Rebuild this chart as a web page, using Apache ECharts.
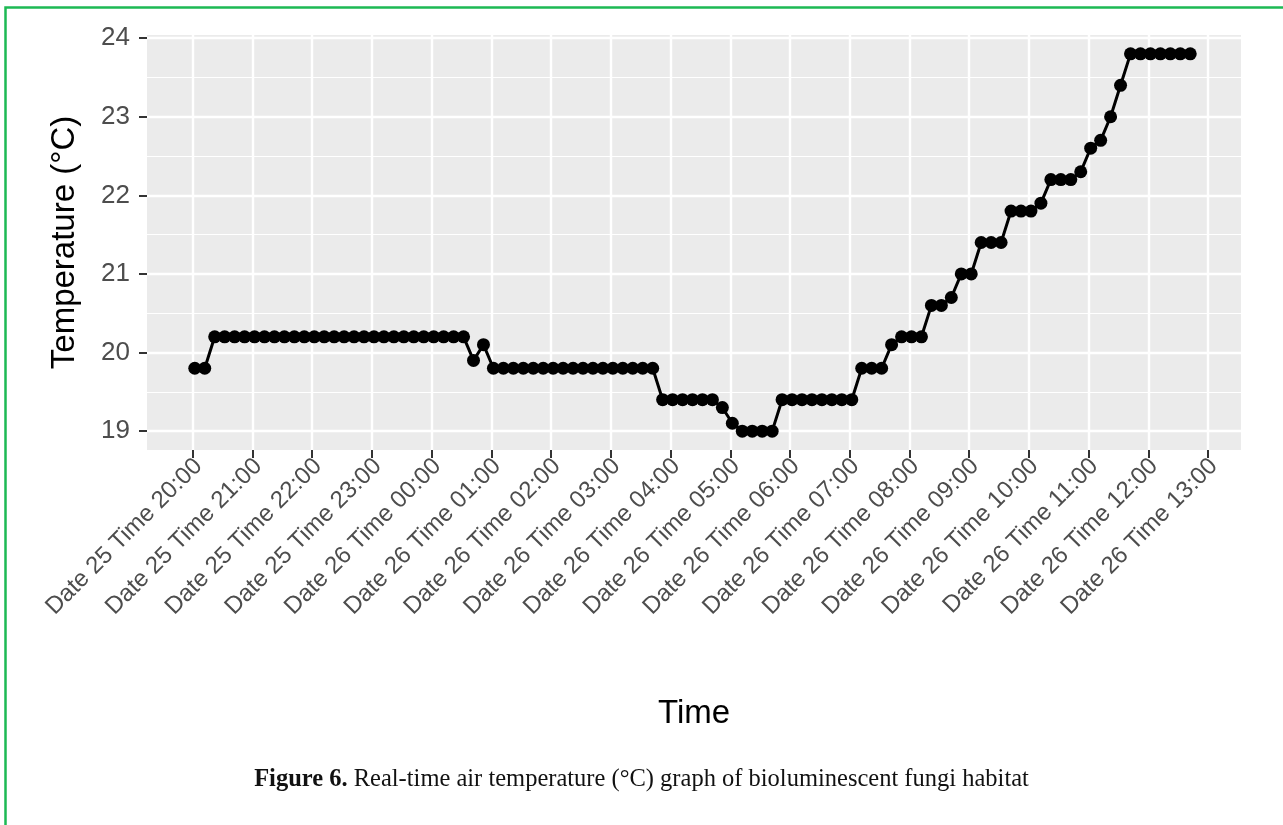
<!DOCTYPE html>
<html>
<head>
<meta charset="utf-8">
<title>Real-time air temperature</title>
<script src="https://cdn.jsdelivr.net/npm/echarts@6/dist/echarts.min.js"></script>
<style>
  html, body { margin: 0; padding: 0; background: #ffffff; }
  #chart { width: 1283px; height: 825px; }
</style>
</head>
<body>
<div id="chart"></div>
<script>
// Logger readings, one every ten minutes (clock time of each reading)
const times = [
  "20:02","20:12","20:22","20:32","20:42","20:52",
  "21:02","21:12","21:22","21:32","21:42","21:52",
  "22:02","22:12","22:22","22:32","22:42","22:52",
  "23:02","23:12","23:22","23:32","23:42","23:52",
  "00:02","00:12","00:22","00:32","00:42","00:52",
  "01:02","01:12","01:22","01:32","01:42","01:52",
  "02:02","02:12","02:22","02:32","02:42","02:52",
  "03:02","03:12","03:22","03:32","03:42","03:52",
  "04:02","04:12","04:22","04:32","04:42","04:52",
  "05:02","05:12","05:22","05:32","05:42","05:52",
  "06:02","06:12","06:22","06:32","06:42","06:52",
  "07:02","07:12","07:22","07:32","07:42","07:52",
  "08:02","08:12","08:22","08:32","08:42","08:52",
  "09:02","09:12","09:22","09:32","09:42","09:52",
  "10:02","10:12","10:22","10:32","10:42","10:52",
  "11:02","11:12","11:22","11:32","11:42","11:52",
  "12:02","12:12","12:22","12:32","12:42"
];

// Air temperature (°C) at each reading
const temps = [
  19.8, 19.8, 20.2, 20.2, 20.2, 20.2,
  20.2, 20.2, 20.2, 20.2, 20.2, 20.2,
  20.2, 20.2, 20.2, 20.2, 20.2, 20.2,
  20.2, 20.2, 20.2, 20.2, 20.2, 20.2,
  20.2, 20.2, 20.2, 20.2, 19.9, 20.1,
  19.8, 19.8, 19.8, 19.8, 19.8, 19.8,
  19.8, 19.8, 19.8, 19.8, 19.8, 19.8,
  19.8, 19.8, 19.8, 19.8, 19.8, 19.4,
  19.4, 19.4, 19.4, 19.4, 19.4, 19.3,
  19.1, 19.0, 19.0, 19.0, 19.0, 19.4,
  19.4, 19.4, 19.4, 19.4, 19.4, 19.4,
  19.4, 19.8, 19.8, 19.8, 20.1, 20.2,
  20.2, 20.2, 20.6, 20.6, 20.7, 21.0,
  21.0, 21.4, 21.4, 21.4, 21.8, 21.8,
  21.8, 21.9, 22.2, 22.2, 22.2, 22.3,
  22.6, 22.7, 23.0, 23.4, 23.8, 23.8,
  23.8, 23.8, 23.8, 23.8, 23.8
];

// Hourly tick positions and their labels
const tickTimes = [
  "20:00","21:00","22:00","23:00","00:00","01:00","02:00","03:00","04:00",
  "05:00","06:00","07:00","08:00","09:00","10:00","11:00","12:00","13:00"
];
const tickLabels = [
  "Date 25 Time 20:00","Date 25 Time 21:00","Date 25 Time 22:00","Date 25 Time 23:00",
  "Date 26 Time 00:00","Date 26 Time 01:00","Date 26 Time 02:00","Date 26 Time 03:00",
  "Date 26 Time 04:00","Date 26 Time 05:00","Date 26 Time 06:00","Date 26 Time 07:00",
  "Date 26 Time 08:00","Date 26 Time 09:00","Date 26 Time 10:00","Date 26 Time 11:00",
  "Date 26 Time 12:00","Date 26 Time 13:00"
];

// Temperature gridlines: labelled majors and unlabelled half-degree minors
const yMajor = [19, 20, 21, 22, 23, 24];
const yMinor = [19.5, 20.5, 21.5, 22.5, 23.5];

// Minutes elapsed since 20:00 on the 25th
function minutesSinceStart(t) {
  const [h, m] = t.split(":").map(Number);
  let v = h * 60 + m - 20 * 60;
  if (v < 0) v += 24 * 60;
  return v;
}

const xTicks = tickTimes.map(minutesSinceStart);
const labelByValue = {};
xTicks.forEach((v, i) => { labelByValue[v] = tickLabels[i]; });
const points = times.map((t, i) => [minutesSinceStart(t), temps[i]]);

const FONT = "'Liberation Sans', Arial, Helvetica, sans-serif";
const SERIF = "'Liberation Serif', 'Times New Roman', serif";
const TICK_COLOR = "#4D4D4D";

const chart = echarts.init(document.getElementById("chart"), null, { renderer: "canvas" });

chart.setOption({
  animation: false,
  backgroundColor: "#ffffff",
  grid: {
    left: 147, right: 42, top: 35, bottom: 375,
    show: true, backgroundColor: "#EBEBEB", borderWidth: 0
  },
  title: {
    left: "center",
    top: 762,
    text: "{b|Figure 6.}{n| Real-time air temperature (°C) graph of bioluminescent fungi habitat}",
    textStyle: {
      fontWeight: "normal",
      rich: {
        b: { fontFamily: SERIF, fontSize: 24.5, fontWeight: "bold", color: "#111111" },
        n: { fontFamily: SERIF, fontSize: 24.5, fontWeight: "normal", color: "#111111" }
      }
    }
  },
  xAxis: {
    type: "value",
    min: -46, max: 1053,
    name: "Time",
    nameLocation: "middle",
    nameGap: 247,
    nameTextStyle: { fontFamily: FONT, fontSize: 33, color: "#000000" },
    axisLine: { show: false, onZero: false },
    axisTick: { show: true, customValues: xTicks, length: 8, lineStyle: { color: "#333333", width: 2 } },
    axisLabel: {
      customValues: xTicks,
      rotate: 45,
      margin: 18,
      padding: [0, -8, 0, 0],
      fontFamily: FONT, fontSize: 24, color: TICK_COLOR,
      formatter: v => labelByValue[v] || ""
    },
    splitLine: { show: true, lineStyle: { color: "#ffffff", width: 2.4 } }
  },
  yAxis: [
    {
      type: "value",
      min: 18.76, max: 24.04,
      name: "Temperature (°C)",
      nameLocation: "middle",
      nameGap: 66,
      nameTextStyle: { fontFamily: FONT, fontSize: 33, color: "#000000" },
      axisLine: { show: false, onZero: false },
      axisTick: { show: true, customValues: yMajor, length: 8, lineStyle: { color: "#333333", width: 2 } },
      axisLabel: {
        customValues: yMajor, margin: 17,
        fontFamily: FONT, fontSize: 26, color: TICK_COLOR,
        formatter: v => String(v)
      },
      splitLine: { show: true, lineStyle: { color: "#ffffff", width: 2.4 } }
    },
    {
      type: "value",
      min: 18.76, max: 24.04,
      position: "left",
      axisLine: { show: false, onZero: false },
      axisTick: { show: false, customValues: yMinor },
      axisLabel: { show: false, customValues: yMinor },
      splitLine: { show: true, lineStyle: { color: "#ffffff", width: 1.2 } }
    }
  ],
  graphic: [
    {
      type: "rect",
      z: 100,
      shape: { x: 5.5, y: 7.5, width: 1400, height: 1000 },
      style: { fill: null, stroke: "#1DB954", lineWidth: 2.5 }
    }
  ],
  series: [
    {
      type: "line",
      yAxisIndex: 0,
      data: points,
      symbol: "circle",
      symbolSize: 13,
      showAllSymbol: true,
      itemStyle: { color: "#000000" },
      lineStyle: { color: "#000000", width: 3 },
      z: 5
    }
  ]
});
</script>
</body>
</html>
